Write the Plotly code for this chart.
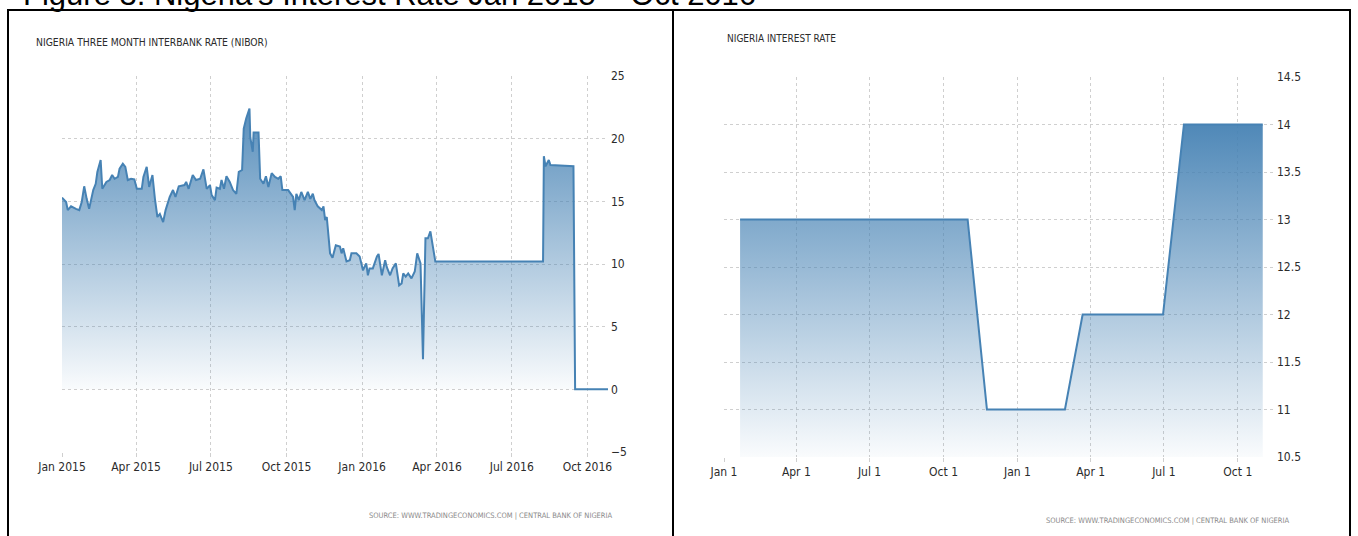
import plotly.graph_objects as go

W, H = 1358, 536

# ---- Data: Nigeria three month interbank rate (NIBOR), % ----
nibor_dates = [
    "2015-01-01", "2015-01-06", "2015-01-08", "2015-01-12", "2015-01-18", "2015-01-22",
    "2015-01-25", "2015-01-28", "2015-01-31", "2015-02-03", "2015-02-08", "2015-02-11",
    "2015-02-13", "2015-02-17", "2015-02-19", "2015-02-24", "2015-02-28", "2015-03-03",
    "2015-03-06", "2015-03-10", "2015-03-12", "2015-03-16", "2015-03-19", "2015-03-22",
    "2015-03-26", "2015-03-30", "2015-04-02", "2015-04-08", "2015-04-10", "2015-04-14",
    "2015-04-17", "2015-04-21", "2015-04-24", "2015-04-27", "2015-04-30", "2015-05-04",
    "2015-05-07", "2015-05-12", "2015-05-16", "2015-05-19", "2015-05-23", "2015-05-30",
    "2015-06-01", "2015-06-04", "2015-06-09", "2015-06-13", "2015-06-18", "2015-06-22",
    "2015-06-26", "2015-06-30", "2015-07-02", "2015-07-06", "2015-07-08", "2015-07-12",
    "2015-07-14", "2015-07-17", "2015-07-20", "2015-07-24", "2015-07-28", "2015-08-01",
    "2015-08-04", "2015-08-08", "2015-08-10", "2015-08-13", "2015-08-17", "2015-08-18",
    "2015-08-21", "2015-08-22", "2015-08-28", "2015-08-30", "2015-09-03", "2015-09-06",
    "2015-09-09", "2015-09-13", "2015-09-17", "2015-09-21", "2015-09-24", "2015-09-26",
    "2015-10-03", "2015-10-09", "2015-10-11", "2015-10-13", "2015-10-16", "2015-10-19",
    "2015-10-23", "2015-10-27", "2015-10-30", "2015-11-02", "2015-11-04", "2015-11-08",
    "2015-11-13", "2015-11-15", "2015-11-17", "2015-11-19", "2015-11-23", "2015-11-26",
    "2015-11-30", "2015-12-05", "2015-12-07", "2015-12-09", "2015-12-13", "2015-12-17",
    "2015-12-19", "2015-12-25", "2015-12-29", "2016-01-02", "2016-01-06", "2016-01-08",
    "2016-01-10", "2016-01-14", "2016-01-19", "2016-01-21", "2016-01-25", "2016-01-29",
    "2016-01-31", "2016-02-04", "2016-02-07", "2016-02-11", "2016-02-15", "2016-02-18",
    "2016-02-20", "2016-02-23", "2016-02-26", "2016-03-01", "2016-03-05", "2016-03-08",
    "2016-03-12", "2016-03-15", "2016-03-18", "2016-03-21", "2016-03-24", "2016-03-30",
    "2016-08-08", "2016-08-09", "2016-08-11", "2016-08-15", "2016-08-17", "2016-09-14",
    "2016-09-16", "2016-10-26",
]
nibor_values = [
    15.3, 14.95, 14.3, 14.6, 14.4, 14.3,
    14.95, 16.2, 15.2, 14.4, 15.9, 16.4,
    17.35, 18.3, 16.0, 16.55, 16.7, 17.1,
    16.8, 16.95, 17.6, 18.0, 17.75, 16.7,
    16.8, 16.75, 16.0, 16.0, 16.95, 17.75,
    16.15, 17.1, 15.2, 13.75, 14.0, 13.35,
    14.3, 15.35, 15.9, 15.35, 16.2, 16.3,
    16.55, 16.0, 17.1, 16.7, 16.8, 17.55,
    16.0, 16.3, 15.5, 15.1, 16.1, 16.0,
    16.7, 16.0, 17.0, 16.55, 15.9, 15.6,
    17.35, 17.5, 20.8, 21.6, 22.4, 20.1,
    18.95, 20.5, 20.5, 16.8, 16.4, 17.0,
    16.15, 17.25, 16.95, 16.8, 17.0, 15.9,
    15.9, 15.35, 14.3, 15.6, 15.1, 15.75,
    15.1, 15.75, 15.2, 15.6, 15.1, 14.6,
    14.3, 14.6, 13.5, 13.75, 10.85, 10.5,
    11.5, 11.4, 10.85, 11.25, 10.2, 10.3,
    10.85, 10.85, 10.6, 9.5, 10.05, 9.1,
    9.65, 9.65, 10.6, 10.8, 9.1, 10.3,
    9.75, 9.1, 9.65, 10.05, 8.3, 8.45,
    9.25, 9.0, 9.25, 8.85, 9.4, 10.85,
    10.05, 2.4, 12.05, 12.05, 12.6, 10.2,
    10.2, 18.6, 17.8, 18.3, 17.9, 17.8,
    0.0, 0.0,
]

# ---- Data: Nigeria interest rate (monetary policy rate), % ----
rate_dates = ["2015-01-21", "2015-10-31", "2015-11-24", "2016-02-29",
              "2016-03-22", "2016-06-30", "2016-07-26", "2016-11-01"]
rate_values = [13, 13, 11, 11, 12, 12, 14, 14]

left_ticks = ["2015-01-01", "2015-04-01", "2015-07-01", "2015-10-01",
              "2016-01-01", "2016-04-01", "2016-07-01", "2016-10-01"]

caption = "Figure 3: Nigeria's Interest Rate Jan 2015 \u2013 Oct 2016"
title_left = "NIGERIA THREE MONTH INTERBANK RATE (NIBOR)"
title_right = "NIGERIA INTEREST RATE"
source_text = "SOURCE: WWW.TRADINGECONOMICS.COM | CENTRAL BANK OF NIGERIA"

NARROW = "DejaVu Sans Condensed, Liberation Sans Narrow, sans-serif"
LINE = "#4682b4"
GRID = "#cfcfcf"


def px(x):
    return x / W


def py(y):
    return 1 - y / H


fig = go.Figure()

fig.add_trace(go.Scatter(
    x=nibor_dates, y=nibor_values, mode="lines",
    line=dict(color=LINE, width=2),
    fill="tozeroy",
    fillgradient=dict(type="vertical", start=0, stop=22.4,
                      colorscale=[[0, "rgba(70,130,180,0.03)"],
                                  [1, "rgba(70,130,180,0.9)"]]),
    xaxis="x", yaxis="y", hoverinfo="skip", showlegend=False,
))

fig.add_trace(go.Scatter(
    x=rate_dates, y=rate_values, mode="lines",
    line=dict(color=LINE, width=2),
    fill="tozeroy",
    fillgradient=dict(type="vertical", start=10.5, stop=14,
                      colorscale=[[0, "rgba(70,130,180,0.03)"],
                                  [1, "rgba(70,130,180,0.95)"]]),
    xaxis="x2", yaxis="y2", hoverinfo="skip", showlegend=False,
))

tickfont = dict(family=NARROW, size=12, color="#2b2b2b")

common_x = dict(showgrid=True, gridcolor=GRID, griddash="dot", gridwidth=1,
                showline=False, zeroline=False, ticks="outside", ticklen=4,
                tickcolor=GRID, tickfont=tickfont, automargin=False)
common_y = dict(showgrid=True, gridcolor=GRID, griddash="dot", gridwidth=1,
                showline=False, zeroline=False, ticks="", side="right",
                tickfont=tickfont, ticklabelstandoff=2, automargin=False)

fig.update_layout(
    width=W, height=H, autosize=False,
    margin=dict(l=0, r=0, t=0, b=0, pad=0),
    paper_bgcolor="white", plot_bgcolor="white",
    xaxis=dict(domain=[px(62), px(608)], anchor="y", type="date",
               range=["2015-01-01", "2016-10-26"],
               tickvals=left_ticks, tickformat="%b %Y", **common_x),
    yaxis=dict(domain=[py(452), py(76)], anchor="x", range=[-5, 25],
               dtick=5, tick0=0, **common_y),
    xaxis2=dict(domain=[px(724), px(1274)], anchor="y2", type="date",
                range=["2015-01-01", "2016-11-15"],
                tick0="2015-01-01", dtick="M3", tickformat="%b %-d", **common_x),
    yaxis2=dict(domain=[py(457), py(77)], anchor="x2", range=[10.5, 14.5],
                dtick=0.5, tick0=10.5, **common_y),
    annotations=[
        dict(text=caption, xref="paper", yref="paper", x=px(21), y=py(-6),
             xanchor="left", yanchor="middle", showarrow=False,
             font=dict(family="Liberation Sans, Arial, sans-serif", size=31, color="#000")),
        dict(text=title_left, xref="paper", yref="paper", x=px(34), y=py(42),
             xanchor="left", yanchor="middle", showarrow=False,
             font=dict(family=NARROW, size=10.3, color="#2b2b2b")),
        dict(text=title_right, xref="paper", yref="paper", x=px(725), y=py(38),
             xanchor="left", yanchor="middle", showarrow=False,
             font=dict(family=NARROW, size=10, color="#2b2b2b")),
        dict(text=source_text, xref="paper", yref="paper", x=px(615), y=py(515),
             xanchor="right", yanchor="middle", showarrow=False,
             font=dict(family=NARROW, size=7.5, color="#8a8a8a")),
        dict(text=source_text, xref="paper", yref="paper", x=px(1292), y=py(520),
             xanchor="right", yanchor="middle", showarrow=False,
             font=dict(family=NARROW, size=7.5, color="#8a8a8a")),
    ],
    shapes=[
        dict(type="line", xref="paper", yref="paper", x0=px(7), x1=px(1351),
             y0=py(10), y1=py(10), line=dict(color="black", width=2)),
        dict(type="line", xref="paper", yref="paper", x0=px(8), x1=px(8),
             y0=py(10), y1=py(540), line=dict(color="black", width=2)),
        dict(type="line", xref="paper", yref="paper", x0=px(673), x1=px(673),
             y0=py(10), y1=py(540), line=dict(color="black", width=2)),
        dict(type="line", xref="paper", yref="paper", x0=px(1350), x1=px(1350),
             y0=py(10), y1=py(540), line=dict(color="black", width=2)),
    ],
)

fig.write_html("out.html")
